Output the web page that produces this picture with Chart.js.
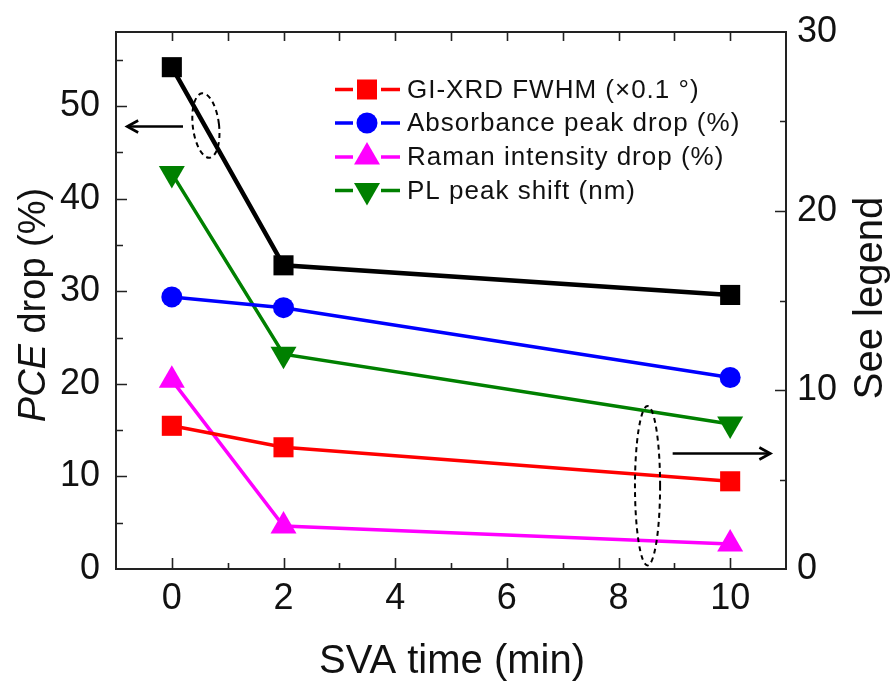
<!DOCTYPE html>
<html>
<head>
<meta charset="utf-8">
<script src="https://cdn.jsdelivr.net/npm/chart.js@4.4.1/dist/chart.umd.min.js"></script>
<style>
  html, body { margin: 0; padding: 0; background: #fff; }
  #wrap { width: 896px; height: 686px; }
</style>
</head>
<body>
<div id="wrap"><canvas id="c" width="896" height="686"></canvas></div>
<script>
// ---------- data ----------
const svaTime = [0, 2, 10];
const pceDrop = [54.2, 32.8, 29.6];          // left axis (%)
const gixrdFwhm = [8.0, 6.8, 4.9];           // right axis (x0.1 deg)
const absorbanceDrop = [15.2, 14.6, 10.7];   // right axis (%)
const ramanDrop = [10.55, 2.4, 1.4];         // right axis (%)
const plShift = [22.1, 12.0, 8.1];           // right axis (nm)

const seriesLabels = ['GI-XRD FWHM (\u00D70.1 \u00B0)', 'Absorbance peak drop (%)', 'Raman intensity drop (%)', 'PL peak shift (nm)'];
const xTickLabels = [0, 2, 4, 6, 8, 10];
const yLeftTickLabels = [0, 10, 20, 30, 40, 50];
const yRightTickLabels = [0, 10, 20, 30];

const FONT = '"Liberation Sans", Arial, sans-serif';

function pts(xs, ys) { return xs.map((x, i) => ({ x: x, y: ys[i] })); }

// annotation marks (ellipses + arrows), expressed in data coordinates
const annotations = {
  leftEllipse: { axis: 'y', cx: 0.61, cy: 47.9, rx: 0.235, ry: 3.5, rot: -0.12 },
  leftArrow: { axis: 'y', x1: 0.20, x2: -0.80, y: 47.9 },
  rightEllipse: { axis: 'y2', cx: 8.52, cy: 4.65, rx: 0.225, ry: 4.45, rot: 0.0 },
  rightArrow: { axis: 'y2', x1: 8.97, x2: 10.72, y: 6.5 }
};

function drawMarker(ctx, style, x, y, color) {
  ctx.save();
  ctx.fillStyle = color;
  ctx.beginPath();
  if (style === 'rect') {
    ctx.rect(x - 10, y - 10, 20, 20);
  } else if (style === 'circle') {
    ctx.arc(x, y, 10.5, 0, Math.PI * 2);
  } else if (style === 'triangle') {
    const r = 15;
    ctx.moveTo(x, y - r);
    ctx.lineTo(x + r * Math.sin(2 * Math.PI / 3), y + r / 2);
    ctx.lineTo(x - r * Math.sin(2 * Math.PI / 3), y + r / 2);
    ctx.closePath();
  } else if (style === 'down') {
    const r = 15;
    ctx.moveTo(x, y + r);
    ctx.lineTo(x + r * Math.sin(2 * Math.PI / 3), y - r / 2);
    ctx.lineTo(x - r * Math.sin(2 * Math.PI / 3), y - r / 2);
    ctx.closePath();
  }
  ctx.fill();
  ctx.restore();
}

function noPad(s) { s.paddingTop = 0; s.paddingBottom = 0; s.paddingLeft = 0; s.paddingRight = 0; }

const decorPlugin = {
  id: 'decor',
  beforeDatasetsDraw(chart) {
    const ctx = chart.ctx;
    const a = chart.chartArea;
    const xs = chart.scales.x, yl = chart.scales.y, yr = chart.scales.y2;
    ctx.save();
    ctx.strokeStyle = '#222';
    ctx.lineWidth = 2;
    ctx.strokeRect(a.left, a.top, a.right - a.left, a.bottom - a.top);
    ctx.lineWidth = 1.6;
    ctx.beginPath();
    for (let v = 0; v <= 10; v++) {
      const px = Math.round(xs.getPixelForValue(v)) + 0.5;
      const len = (v % 2 === 0) ? 11 : 6;
      ctx.moveTo(px, a.bottom); ctx.lineTo(px, a.bottom - len);
      ctx.moveTo(px, a.top); ctx.lineTo(px, a.top + 9);
    }
    for (let v = 5; v <= 55; v += 5) {
      const py = Math.round(yl.getPixelForValue(v)) + 0.5;
      const len = (v % 10 === 0) ? 11 : 7;
      ctx.moveTo(a.left, py); ctx.lineTo(a.left + len, py);
    }
    for (let v = 5; v < 30; v += 5) {
      const py = Math.round(yr.getPixelForValue(v)) + 0.5;
      const len = (v % 10 === 0) ? 11 : 6;
      ctx.moveTo(a.right, py); ctx.lineTo(a.right - len, py);
    }
    ctx.stroke();
    ctx.restore();
  },
  afterDatasetsDraw(chart) {
    const ctx = chart.ctx;
    const xs = chart.scales.x;
    ctx.save();
    ctx.strokeStyle = '#000';
    ctx.fillStyle = '#000';
    ['leftEllipse', 'rightEllipse'].forEach(k => {
      const e = annotations[k];
      const ys = chart.scales[e.axis];
      const cx = xs.getPixelForValue(e.cx), cy = ys.getPixelForValue(e.cy);
      const rx = Math.abs(xs.getPixelForValue(e.cx + e.rx) - cx);
      const ry = Math.abs(ys.getPixelForValue(e.cy + e.ry) - cy);
      ctx.lineWidth = 2;
      ctx.setLineDash([5, 4]);
      ctx.beginPath();
      ctx.ellipse(cx, cy, rx, ry, e.rot, 0, Math.PI * 2);
      ctx.stroke();
    });
    ctx.setLineDash([]);
    ['leftArrow', 'rightArrow'].forEach(k => {
      const r = annotations[k];
      const ys = chart.scales[r.axis];
      const x1 = xs.getPixelForValue(r.x1), x2 = xs.getPixelForValue(r.x2);
      const y = Math.round(ys.getPixelForValue(r.y)) + 0.5;
      const dir = Math.sign(x2 - x1);
      ctx.lineWidth = 2.6;
      ctx.beginPath();
      ctx.moveTo(x1, y); ctx.lineTo(x2, y);
      ctx.stroke();
      ctx.beginPath();
      ctx.moveTo(x2 - dir * 11, y - 6);
      ctx.lineTo(x2, y);
      ctx.lineTo(x2 - dir * 11, y + 6);
      ctx.stroke();
    });

    // legend
    const rows = [89.5, 123, 157, 190.5];
    const styles = ['rect', 'circle', 'triangle', 'down'];
    const colors = ['#ff0000', '#0000ff', '#ff00ff', '#008000'];
    ctx.font = '26px ' + FONT;
    ctx.textBaseline = 'middle';
    ctx.textAlign = 'left';
    try { ctx.letterSpacing = '1px'; } catch (e) {}
    rows.forEach((y, i) => {
      ctx.strokeStyle = colors[i];
      ctx.lineWidth = 3.5;
      ctx.beginPath();
      ctx.moveTo(335, y); ctx.lineTo(353, y);
      ctx.moveTo(381, y); ctx.lineTo(400, y);
      ctx.stroke();
      drawMarker(ctx, styles[i], 367, y, colors[i]);
      ctx.fillStyle = '#111';
      ctx.fillText(seriesLabels[i], 407, y + 1);
    });
    try { ctx.letterSpacing = '0px'; } catch (e) {}

    // axis titles
    ctx.fillStyle = '#111';
    ctx.textBaseline = 'alphabetic';
    ctx.font = '40px ' + FONT;
    ctx.textAlign = 'center';
    ctx.fillText('SVA time (min)', 452, 673);
    ctx.save();
    ctx.translate(45, 305);
    ctx.rotate(-Math.PI / 2);
    ctx.font = 'italic 38px ' + FONT;
    const w1 = ctx.measureText('PCE').width;
    ctx.font = '38px ' + FONT;
    const w2 = ctx.measureText(' drop (%)').width;
    const start = -(w1 + w2) / 2;
    ctx.textAlign = 'left';
    ctx.font = 'italic 38px ' + FONT;
    ctx.fillText('PCE', start, 0);
    ctx.font = '38px ' + FONT;
    ctx.fillText(' drop (%)', start + w1, 0);
    ctx.restore();
    ctx.save();
    ctx.translate(882, 298);
    ctx.rotate(-Math.PI / 2);
    ctx.font = '40px ' + FONT;
    ctx.textAlign = 'center';
    ctx.fillText('See legend', 0, 0);
    ctx.restore();
    ctx.restore();
  }
};

const common = { fill: false, tension: 0, pointBorderWidth: 0, pointHoverRadius: 0 };

const chart = new Chart(document.getElementById('c'), {
  type: 'line',
  data: {
    datasets: [
      Object.assign({ label: 'PCE drop', data: pts(svaTime, pceDrop), yAxisID: 'y', borderColor: '#000', backgroundColor: '#000', borderWidth: 4.5, pointStyle: 'rect', pointRadius: 14.2 }, common),
      Object.assign({ label: seriesLabels[0], data: pts(svaTime, gixrdFwhm), yAxisID: 'y2', borderColor: '#ff0000', backgroundColor: '#ff0000', borderWidth: 3.5, pointStyle: 'rect', pointRadius: 14.2 }, common),
      Object.assign({ label: seriesLabels[1], data: pts(svaTime, absorbanceDrop), yAxisID: 'y2', borderColor: '#0000ff', backgroundColor: '#0000ff', borderWidth: 3.5, pointStyle: 'circle', pointRadius: 10.5 }, common),
      Object.assign({ label: seriesLabels[2], data: pts(svaTime, ramanDrop), yAxisID: 'y2', borderColor: '#ff00ff', backgroundColor: '#ff00ff', borderWidth: 3.5, pointStyle: 'triangle', pointRadius: 15 }, common),
      Object.assign({ label: seriesLabels[3], data: pts(svaTime, plShift), yAxisID: 'y2', borderColor: '#008000', backgroundColor: '#008000', borderWidth: 3.5, pointStyle: 'triangle', pointRotation: 180, pointRadius: 15 }, common)
    ]
  },
  options: {
    responsive: false,
    animation: false,
    events: [],
    layout: { padding: { top: 32, left: 0, right: 0, bottom: 0 } },
    plugins: { legend: { display: false }, tooltip: { enabled: false } },
    scales: {
      x: {
        type: 'linear', position: 'bottom', min: -1, max: 11,
        afterBuildTicks(s) { s.ticks = xTickLabels.map(v => ({ value: v })); },
        afterFit(s) { s.height = 117; noPad(s); },
        grid: { display: false, drawTicks: false },
        border: { display: false },
        ticks: { color: '#111', padding: 8, font: { family: FONT, size: 36 }, maxRotation: 0, autoSkip: false }
      },
      y: {
        type: 'linear', position: 'left', min: 0, max: 58,
        afterBuildTicks(s) { s.ticks = yLeftTickLabels.map(v => ({ value: v })); },
        afterFit(s) { s.width = 116; noPad(s); },
        grid: { display: false, drawTicks: false },
        border: { display: false },
        ticks: { color: '#111', padding: 16, font: { family: FONT, size: 36 }, autoSkip: false }
      },
      y2: {
        type: 'linear', position: 'right', min: 0, max: 30,
        afterBuildTicks(s) { s.ticks = yRightTickLabels.map(v => ({ value: v })); },
        afterFit(s) { s.width = 110; noPad(s); },
        grid: { display: false, drawTicks: false },
        border: { display: false },
        ticks: { color: '#111', padding: 11, font: { family: FONT, size: 36 }, autoSkip: false }
      }
    }
  },
  plugins: [decorPlugin]
});
</script>
</body>
</html>
